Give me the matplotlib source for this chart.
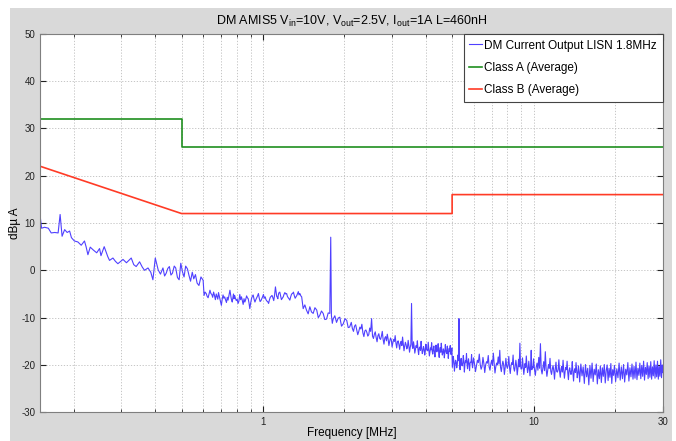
import numpy as np
import matplotlib.pyplot as plt
from matplotlib.patches import Rectangle

plt.rcParams['font.family'] = ['Liberation Sans', 'DejaVu Sans']
plt.rcParams['mathtext.fontset'] = 'custom'
plt.rcParams['mathtext.rm'] = 'Liberation Sans'
plt.rcParams['mathtext.it'] = 'Liberation Sans'
plt.rcParams['axes.unicode_minus'] = False

# limit lines (CISPR average, dBuA)
f_class_a = [0.15, 0.5, 0.5, 30]
v_class_a = [32, 32, 26, 26]
f_class_b = [0.15, 0.5, 5, 5, 30]
v_class_b = [22, 12, 12, 16, 16]

f_low = [0.150, 0.152, 0.156, 0.161, 0.165, 0.170, 0.175, 0.178, 0.181, 0.185,
         0.189, 0.193, 0.196, 0.201, 0.207, 0.213, 0.219, 0.222, 0.2255, 0.230,
         0.236, 0.243, 0.249, 0.252, 0.259, 0.267, 0.271, 0.279, 0.285, 0.291,
         0.304, 0.313, 0.326, 0.333, 0.340, 0.350, 0.358, 0.365, 0.376, 0.385,
         0.392, 0.400, 0.410, 0.418, 0.427, 0.433, 0.439, 0.445, 0.451, 0.457,
         0.463, 0.470, 0.476, 0.483, 0.490, 0.497, 0.504, 0.511, 0.518, 0.526,
         0.533, 0.540, 0.548, 0.555, 0.563, 0.571, 0.580, 0.590, 0.601]
v_low = [11.8, 8.9, 9.1, 8.9, 7.9, 8.0, 7.9, 11.8, 7.2, 8.6,
         8.0, 8.3, 6.9, 6.2, 6.0, 5.3, 6.2, 5.0, 3.3, 4.9,
         4.3, 3.7, 4.6, 3.1, 5.0, 2.9, 2.1, 2.6, 1.9, 1.4,
         2.3, 1.6, 2.6, 1.2, 0.8, 1.8, 0.7, 0.0, 0.5, -0.4,
         -2.0, 2.6, 0.1, -0.8, 0.5, -1.2, -0.6, 0.4, 0.8, -1.0,
         -0.6, 0.9, 0.5, -1.5, -2.0, 1.5, -0.3, -1.4, 0.9, 0.3,
         -1.1, -2.3, -0.4, -1.8, -0.9, -2.7, -3.2, -1.4, -2.1]

# 0.6 - 2.1 MHz
f_mid = [0.606, 0.617, 0.627, 0.637, 0.647, 0.657, 0.667, 0.677, 0.685, 0.693,
         0.702, 0.712, 0.722, 0.733, 0.743, 0.755, 0.763, 0.770, 0.778, 0.786,
         0.797, 0.809, 0.821, 0.833, 0.845, 0.857, 0.870, 0.882, 0.894, 0.907,
         0.920, 0.934, 0.948, 0.962, 0.976, 0.990, 1.004, 1.019, 1.034, 1.049,
         1.064, 1.080, 1.096, 1.112, 1.124, 1.135, 1.144, 1.154, 1.170, 1.188,
         1.205, 1.223, 1.240, 1.257, 1.276, 1.296, 1.315, 1.334, 1.351, 1.368,
         1.380, 1.390, 1.408, 1.428, 1.448, 1.469, 1.490, 1.511, 1.533, 1.556,
         1.580, 1.601, 1.622, 1.645, 1.669, 1.693, 1.718, 1.742, 1.766, 1.780,
         1.790, 1.804, 1.817, 1.843, 1.870, 1.896, 1.923, 1.951, 1.980, 2.010,
         2.040, 2.065, 2.090]
v_mid = [-5.3, -4.9, -5.8, -4.2, -5.1, -4.6, -6.2, -5.6, -4.7, -6.0,
         -7.4, -5.2, -5.6, -6.8, -6.3, -4.2, -5.9, -6.7, -5.0, -5.3,
         -6.4, -7.0, -5.1, -5.6, -7.2, -6.7, -5.4, -6.0, -8.1, -6.0,
         -5.2, -6.7, -5.8, -4.9, -6.6, -6.0, -5.1, -5.6, -6.5, -7.0,
         -5.7, -5.3, -6.4, -3.5, -5.5, -6.0, -4.8, -4.6, -6.2, -5.6,
         -4.7, -4.9, -5.8, -6.3, -5.0, -4.6, -5.9, -5.3, -4.5, -4.9,
         -5.4, -5.6, -8.1, -7.3, -8.4, -9.2, -7.7, -8.8, -9.1, -7.9,
         -8.4, -10.0, -9.5, -8.6, -9.1, -10.4, -10.3, -9.0, -9.1, 7.0,
         -9.5, -11.2, -10.3, -9.6, -11.0, -10.1, -9.9, -11.8, -11.3, -10.2,
         -10.6, -12.1, -12.0]
# extra samples between the ones above (0.6 - 1.4 MHz)
f_mid_b = [0.611, 0.622, 0.632, 0.642, 0.652, 0.662, 0.672, 0.681, 0.689, 0.697,
           0.707, 0.717, 0.727, 0.738, 0.749, 0.759, 0.766, 0.774, 0.782, 0.791,
           0.803, 0.815, 0.827, 0.839, 0.851, 0.863, 0.876, 0.888, 0.900, 0.913,
           0.927, 0.941, 0.955, 0.969, 0.983, 0.997, 1.011, 1.026, 1.041, 1.056,
           1.072, 1.088, 1.104, 1.118, 1.130, 1.139, 1.149, 1.162, 1.179, 1.196,
           1.214, 1.231, 1.248, 1.266, 1.286, 1.305, 1.324, 1.342, 1.359, 1.374,
           1.385, 1.399]
v_mid_b = [-4.6, -5.5, -5.0, -4.9, -5.7, -5.3, -5.0, -6.1, -5.4, -6.6,
           -6.1, -5.9, -6.2, -5.7, -5.2, -5.1, -6.3, -5.8, -6.0, -5.9,
           -6.1, -6.5, -6.2, -6.4, -6.0, -6.2, -5.8, -6.9, -7.0, -5.5,
           -6.1, -6.2, -5.4, -5.9, -6.4, -5.6, -5.9, -6.2, -6.6, -6.3,
           -5.5, -5.8, -5.2, -4.6, -5.7, -5.3, -4.7, -5.4, -5.9, -5.1,
           -5.0, -5.5, -6.0, -5.6, -4.9, -5.3, -5.6, -4.9, -5.2, -5.1,
           -5.5, -6.8]

# 2.1 - 5 MHz
f_c = [2.12, 2.16, 2.20, 2.24, 2.28, 2.32, 2.36, 2.40, 2.44, 2.48,
       2.52, 2.56, 2.60, 2.64, 2.68, 2.72, 2.76, 2.80, 2.84, 2.88,
       2.92, 2.96, 3.00, 3.04, 3.08, 3.12, 3.16, 3.20, 3.24, 3.28,
       3.32, 3.36, 3.40, 3.44, 3.48, 3.52, 3.54, 3.56, 3.60, 3.64,
       3.68, 3.72, 3.76, 3.80, 3.84, 3.88, 3.92, 3.96, 4.00, 4.04,
       4.08, 4.12, 4.16, 4.20, 4.24, 4.28, 4.32, 4.36, 4.40, 4.44,
       4.48, 4.52, 4.56, 4.60, 4.64, 4.68, 4.72, 4.76, 4.80, 4.84,
       4.88, 4.92, 4.96, 4.99]
v_c = [-11.0, -12.9, -11.5, -13.6, -12.0, -11.4, -14.0, -12.6, -13.9, -12.2,
       -10.2, -14.4, -13.0, -15.1, -13.4, -14.6, -12.9, -15.6, -14.0, -13.5,
       -15.9, -14.3, -16.2, -14.6, -13.8, -16.4, -14.9, -16.7, -15.0, -14.1,
       -17.0, -15.2, -16.6, -14.8, -17.3, -15.6, -7.0, -16.0, -15.1, -17.5,
       -15.9, -14.9, -17.8, -16.2, -15.0, -17.6, -16.1, -17.9, -15.6, -16.8,
       -15.2, -18.1, -16.4, -15.3, -17.7, -16.0, -18.3, -15.8, -17.2, -15.5,
       -18.4, -16.3, -15.4, -17.9, -16.6, -18.5, -15.7, -17.4, -16.0, -18.6,
       -16.5, -15.9, -17.8, -16.4]
f_c_b = [2.14, 2.18, 2.22, 2.26, 2.30, 2.34, 2.38, 2.42, 2.46, 2.50,
         2.54, 2.58, 2.62, 2.66, 2.70, 2.74, 2.78, 2.82, 2.86, 2.90,
         2.94, 2.98, 3.02, 3.06, 3.10, 3.14, 3.18, 3.22, 3.26, 3.30,
         3.34, 3.38, 3.42, 3.46, 3.50, 3.58, 3.62, 3.66, 3.70, 3.74,
         3.78, 3.82, 3.86, 3.90, 3.94, 3.98, 4.02, 4.06, 4.10, 4.14,
         4.18, 4.22, 4.26, 4.30, 4.34, 4.38, 4.42, 4.46, 4.50, 4.54,
         4.58, 4.62, 4.66, 4.70, 4.74, 4.78, 4.82, 4.86, 4.90, 4.94,
         4.975]
v_c_b = [-12.3, -11.8, -12.6, -12.9, -12.4, -13.2, -12.8, -13.1, -13.6, -12.9,
         -13.9, -13.5, -14.2, -13.8, -14.4, -13.9, -14.6, -14.3, -14.9, -14.5,
         -15.0, -14.7, -15.3, -15.0, -15.4, -15.1, -15.7, -15.4, -15.9, -15.5,
         -16.0, -15.7, -16.2, -15.9, -16.3, -16.5, -16.1, -16.7, -16.3, -16.8,
         -16.4, -16.9, -16.5, -17.0, -16.6, -17.1, -16.7, -17.0, -16.6, -17.2,
         -16.8, -17.1, -16.7, -17.3, -16.9, -17.2, -16.8, -17.4, -16.9, -17.3,
         -16.9, -17.5, -17.0, -17.3, -16.9, -17.6, -17.0, -17.4, -17.1, -17.6,
         -17.2]

# 5 - 30 MHz
f_hi = [5.01, 5.05, 5.10, 5.15, 5.20, 5.25, 5.30, 5.35, 5.40, 5.45,
        5.50, 5.55, 5.60, 5.65, 5.70, 5.75, 5.80, 5.85, 5.90, 5.95,
        6.00, 6.10, 6.20, 6.30, 6.40, 6.50, 6.60, 6.70, 6.80, 6.90,
        7.00, 7.10, 7.20, 7.30, 7.40, 7.50, 7.60, 7.70, 7.80, 7.90,
        8.00, 8.10, 8.20, 8.30, 8.40, 8.50, 8.60, 8.70, 8.80, 8.90,
        9.00, 9.10, 9.20, 9.30, 9.40, 9.50, 9.60, 9.70, 9.80, 9.90,
        10.0, 10.15, 10.3, 10.45, 10.6, 10.75, 10.9, 11.05, 11.2, 11.35,
        11.5, 11.65, 11.8, 11.95, 12.1, 12.25, 12.4, 12.55, 12.7, 12.85,
        13.0, 13.15, 13.3, 13.45, 13.6, 13.75, 13.9, 14.05, 14.2, 14.35,
        14.5, 14.65, 14.8, 14.95, 15.1, 15.25, 15.4, 15.55, 15.7, 15.85,
        16.0, 16.15, 16.3, 16.45, 16.6, 16.75, 16.9, 17.05, 17.2, 17.35,
        17.5, 17.65, 17.8, 17.95, 18.1, 18.25, 18.4, 18.55, 18.7, 18.85,
        19.0, 19.15, 19.3, 19.45, 19.6, 19.75, 19.9, 20.1, 20.3, 20.5,
        20.7, 20.9, 21.1, 21.3, 21.5, 21.7, 21.9, 22.1, 22.3, 22.5,
        22.7, 22.9, 23.1, 23.3, 23.5, 23.7, 23.9, 24.1, 24.3, 24.5,
        24.7, 24.9, 25.1, 25.3, 25.5, 25.7, 25.9, 26.1, 26.3, 26.5,
        26.7, 26.9, 27.1, 27.3, 27.5, 27.7, 27.9, 28.1, 28.3, 28.5,
        28.7, 28.9, 29.1, 29.3, 29.5, 29.7, 29.9, 30.0]
v_hi = [-20.5, -18.2, -21.3, -19.0, -20.6, -17.9, -10.2, -21.0, -18.6, -20.2,
        -18.0, -21.5, -19.1, -17.6, -20.8, -18.7, -21.2, -19.4, -17.8, -20.6,
        -18.5, -21.4, -19.0, -17.7, -20.9, -18.4, -21.6, -19.3, -18.0, -21.1,
        -19.0, -17.5, -21.7, -19.6, -18.3, -16.9, -21.4, -19.2, -22.0, -18.6,
        -20.7, -18.2, -21.8, -19.5, -17.9, -21.3, -19.0, -22.1, -18.8, -15.4,
        -20.9, -18.5, -22.0, -19.7, -18.1, -21.6, -19.2, -22.3, -16.9, -20.4,
        -18.7, -22.2, -19.6, -18.4, -15.5, -21.9, -19.3, -17.2, -22.4, -19.9,
        -18.6, -22.0, -20.1, -23.0, -19.4, -21.5, -18.9, -22.6, -20.3, -19.0,
        -22.8, -20.5, -19.2, -23.1, -20.6, -22.0, -19.3, -23.4, -20.8, -19.5,
        -22.7, -20.2, -23.6, -19.8, -22.3, -20.4, -23.9, -19.9, -22.5, -20.7,
        -24.2, -20.1, -22.8, -19.6, -23.5, -20.9, -22.1, -19.8, -24.0, -21.0,
        -22.9, -20.2, -23.7, -20.6, -22.4, -19.9, -23.8, -21.2, -20.0, -23.3,
        -20.7, -22.6, -19.7, -23.9, -21.0, -22.2, -20.1, -23.5, -20.8, -22.7,
        -19.6, -23.2, -20.4, -22.9, -19.9, -23.6, -20.9, -22.1, -19.5, -23.4,
        -20.6, -22.5, -19.8, -23.0, -20.3, -22.8, -19.4, -23.1, -20.7, -22.2,
        -19.6, -22.9, -20.1, -22.4, -19.2, -23.2, -20.5, -22.0, -19.5, -22.9,
        -20.2, -22.6, -19.3, -23.0, -20.4, -22.3, -19.1, -22.8, -20.0, -22.5,
        -19.2, -23.0, -20.3, -22.4, -18.9, -22.7, -20.0, -21.6]
f_hi_b = [5.025, 5.075, 5.125, 5.175, 5.225, 5.275, 5.325, 5.375, 5.425, 5.475,
          5.525, 5.575, 5.625, 5.675, 5.725, 5.775, 5.825, 5.875, 5.925, 5.975,
          6.05, 6.15, 6.25, 6.35, 6.45, 6.55, 6.65, 6.75, 6.85, 6.95,
          7.05, 7.15, 7.25, 7.35, 7.45, 7.55, 7.65, 7.75, 7.85, 7.95,
          8.05, 8.15, 8.25, 8.35, 8.45, 8.55, 8.65, 8.75, 8.85, 8.95,
          9.05, 9.15, 9.25, 9.35, 9.45, 9.55, 9.65, 9.75, 9.85, 9.95,
          10.075, 10.225, 10.375, 10.525, 10.675, 10.825, 10.975, 11.125, 11.275, 11.425,
          11.575, 11.725, 11.875, 12.025, 12.175, 12.325, 12.475, 12.625, 12.775, 12.925,
          13.075, 13.225, 13.375, 13.525, 13.675, 13.825, 13.975, 14.125, 14.275, 14.425,
          14.575, 14.725, 14.875]
v_hi_b = [-19.6, -19.2, -19.9, -19.4, -19.8, -19.1, -19.7, -19.3, -20.0, -19.5,
          -19.2, -19.9, -19.4, -19.7, -19.3, -20.1, -19.6, -19.4, -19.9, -19.5,
          -19.8, -20.2, -19.5, -19.9, -20.3, -19.7, -20.0, -19.6, -20.4, -19.8,
          -20.1, -19.7, -20.4, -20.0, -19.8, -20.5, -20.1, -19.9, -20.6, -20.2,
          -20.0, -20.6, -20.2, -19.9, -20.7, -20.3, -20.1, -20.8, -20.4, -20.2,
          -20.7, -20.3, -20.9, -20.5, -20.2, -20.9, -20.6, -20.3, -21.0, -20.6,
          -20.9, -20.5, -21.1, -20.7, -21.0, -20.6, -21.2, -20.8, -21.1, -20.7,
          -21.3, -20.9, -21.2, -20.8, -21.4, -21.0, -21.3, -20.9, -21.5, -21.1,
          -21.4, -21.0, -21.6, -21.2, -21.5, -21.1, -21.7, -21.3, -21.6, -21.2,
          -21.8, -21.4, -21.7]

freq = np.array(f_low + f_mid + f_mid_b + f_c + f_c_b + f_hi + f_hi_b)
level = np.array(v_low + v_mid + v_mid_b + v_c + v_c_b + v_hi + v_hi_b)
order = np.argsort(freq, kind='stable')
freq, level = freq[order], level[order]

fig = plt.figure(figsize=(6.76, 4.41), dpi=100, facecolor='white')
# grey figure panel (MATLAB look)
fig.patches.append(Rectangle((10 / 676, 0), 662 / 676, 433 / 441,
                             transform=fig.transFigure, facecolor='#d9d9d9',
                             edgecolor='none', zorder=-1))
ax = fig.add_axes([40 / 676, 28.7 / 441, 622.7 / 676, 378.6 / 441])
ax.set_facecolor('white')

ax.plot(freq, level, color='#4f40ff', lw=0.8, label='DM Current Output LISN 1.8MHz')
ax.plot(f_class_a, v_class_a, color='#1f8f1f', lw=1.2, label='Class A (Average)')
ax.plot(f_class_b, v_class_b, color='#ff3b26', lw=1.2, label='Class B (Average)')

ax.set_xscale('log')
ax.set_xlim(0.15, 30)
ax.set_ylim(-30, 50)
ax.set_xticks([1, 10, 30])
ax.set_xticklabels(['1', '10', '30'])
ax.set_xticks([0.2, 0.3, 0.4, 0.5, 0.6, 0.7, 0.8, 0.9, 2, 3, 4, 5, 6, 7, 8, 9, 20], minor=True)
ax.xaxis.set_minor_formatter(plt.NullFormatter())
ax.set_yticks(np.arange(-30, 51, 10))
ax.grid(True, which='both', color='#bdbdbd', linestyle=(0, (1.5, 2)), lw=0.6)
ax.tick_params(which='both', direction='in', top=True, right=True, labelsize=7,
               colors='#222222', length=4)
ax.tick_params(which='minor', length=2.5)
for s in ax.spines.values():
    s.set_color('#7f7f7f')
    s.set_linewidth(0.8)

ax.set_xlabel('Frequency [MHz]', fontsize=8.5, labelpad=0)
ax.set_ylabel('dBµ A', fontsize=8.5, labelpad=0)
ax.set_title(r'DM AMIS5 V$_{\rm in}$=10V, V$_{\rm out}$=2.5V, I$_{\rm out}$=1A L=460nH',
             fontsize=9, pad=6)

leg = ax.legend(loc='upper right', fontsize=8.5, handlelength=1.1, handletextpad=0.15,
                labelspacing=0.85, borderaxespad=0, fancybox=False, framealpha=1,
                edgecolor='#444444', borderpad=0.5)
leg.get_frame().set_linewidth(0.8)

fig.savefig('out.png', dpi=100, facecolor=fig.get_facecolor())
